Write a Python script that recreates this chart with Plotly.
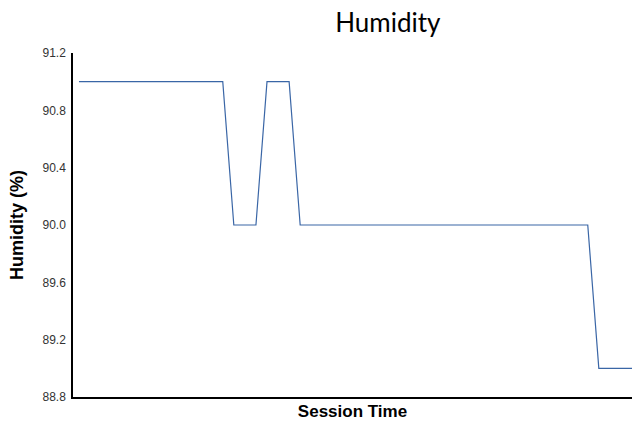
import plotly.graph_objects as go

session_time = list(range(51))
humidity = ([91.0] * 14 + [90.0] * 3 + [91.0] * 3 + [90.0] * 27 + [89.0] * 4)

y_ticks = [88.8, 89.2, 89.6, 90.0, 90.4, 90.8, 91.2]
y_tick_labels = ["88.8", "89.2", "89.6", "90.0", "90.4", "90.8", "91.2"]

fig = go.Figure()
fig.add_trace(go.Scatter(
    x=session_time, y=humidity, mode="lines",
    line=dict(color="#3a66a6", width=1.2),
    showlegend=False,
))

fig.update_layout(
    width=632, height=424,
    margin=dict(l=73, r=0, t=53, b=27),
    paper_bgcolor="white", plot_bgcolor="white",
    title=dict(text="Humidity", x=356/632, xanchor="center", xref="paper",
               y=1 - 23/424, yanchor="middle", yref="container",
               font=dict(family="Lato", size=26, color="black")),
    xaxis=dict(range=[-0.54, 50], showgrid=False, zeroline=False,
               showticklabels=False, ticks="",
               showline=True, linecolor="black", linewidth=1.5,
               title=dict(text="<b>Session Time</b>", standoff=7,
                          font=dict(family="Liberation Sans, Arial", size=17, color="black"))),
    yaxis=dict(range=[88.8, 91.2], showgrid=False, zeroline=False,
               tickvals=y_ticks, ticktext=y_tick_labels,
               ticks="outside", ticklen=3, tickcolor="rgba(0,0,0,0)",
               tickfont=dict(family="Liberation Sans, Arial", size=12, color="#333"),
               showline=True, linecolor="black", linewidth=1.5,
               title=dict(text="<b>Humidity (%)</b>", standoff=14,
                          font=dict(family="Liberation Sans, Arial", size=18, color="black"))),
)

fig.write_html("out.html", config={"displayModeBar": False},
               post_script="document.body.style.margin='0';")
